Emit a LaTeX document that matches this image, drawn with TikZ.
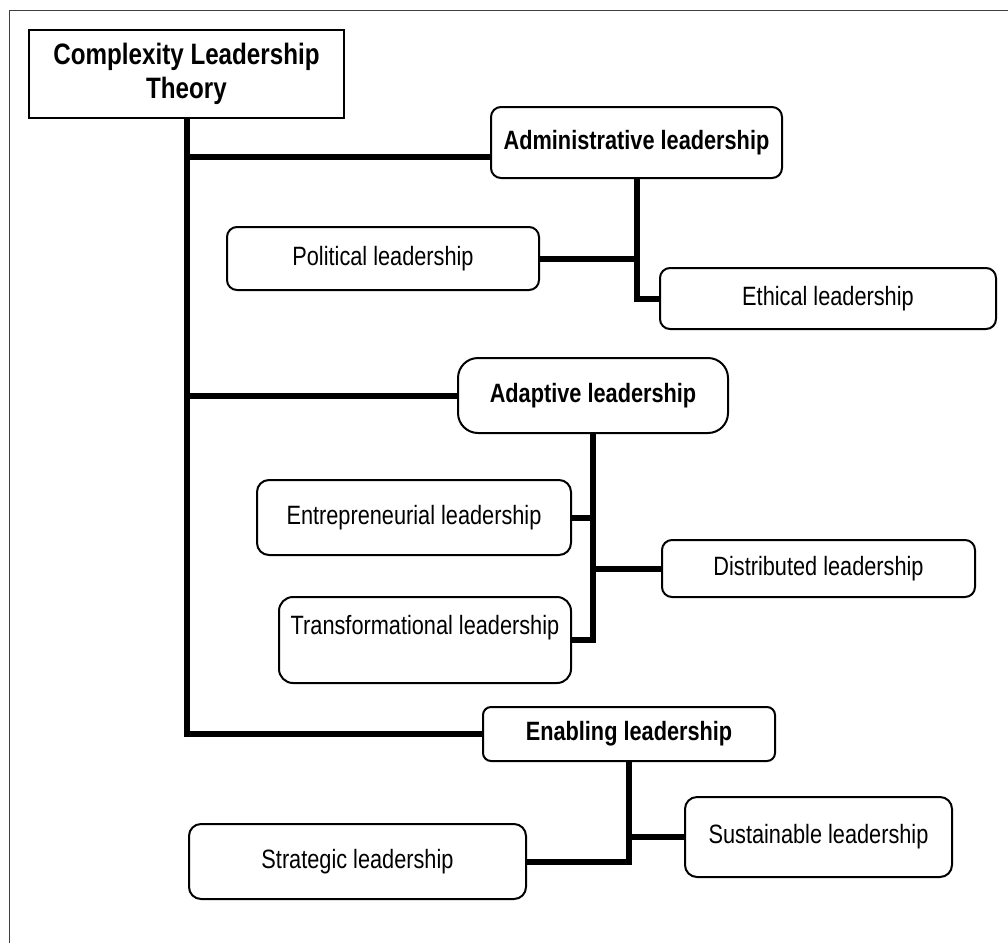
\documentclass[tikz,border=0pt]{standalone}
\usepackage{fontspec}
\setmainfont{Liberation Sans}[FakeStretch=0.82]
\begin{document}
\begin{tikzpicture}[x=1pt,y=-1pt,
  box/.style={draw,line width=2pt,rounded corners=10pt,fill=white,inner sep=0pt,align=center,
    font=\fontsize{26.5}{30}\selectfont},
  hbox/.style={box,font=\fontsize{26.5}{30}\selectfont\bfseries},
  conn/.style={line width=6pt},
  frame/.style={line width=1.5pt,draw=black!75}]
\useasboundingbox (0,0) rectangle (1008,943);
\draw[frame] (9.5,943) -- (9.5,10.5) -- (1008,10.5);

\node[draw,line width=1.3pt,fill=white,inner sep=0pt,align=center,minimum width=315pt,minimum height=88pt,
  font=\fontsize{29.5}{34}\selectfont\bfseries] (clt) at (186.5,74) {Complexity Leadership\\Theory};

\node[hbox,minimum width=291pt,minimum height=71pt] (admin) at (636.5,142.5) {Administrative leadership};
\node[box,minimum width=312pt,minimum height=63pt] (pol) at (383,258.5) {Political leadership};
\node[box,minimum width=336pt,minimum height=61pt] (eth) at (828,298.5) {Ethical leadership};

\node[hbox,rounded corners=20pt,minimum width=270pt,minimum height=75pt] (adapt) at (593,395.5) {Adaptive leadership};
\node[box,rounded corners=12pt,minimum width=314pt,minimum height=75pt] (entre) at (414,517.5) {Entrepreneurial leadership};
\node[box,rounded corners=14pt,minimum width=292pt,minimum height=86pt] (transf) at (425,640) {Transformational leadership\\\mbox{}};
\node[box,minimum width=313pt,minimum height=57pt] (dist) at (818.5,568.5) {Distributed leadership};

\node[hbox,rounded corners=8pt,minimum width=292pt,minimum height=54pt] (enab) at (629,734) {Enabling leadership};
\node[box,rounded corners=12pt,minimum width=267pt,minimum height=80pt] (sust) at (818.5,837) {Sustainable leadership};
\node[box,rounded corners=12pt,minimum width=337pt,minimum height=75pt] (strat) at (357.5,861.5) {Strategic leadership};

% trunk
\draw[conn] (clt.south) |- (enab.west);
\draw[conn] (clt.south |- 0,157) -- (admin.west |- 0,157);
\draw[conn] (clt.south |- adapt.west) -- (adapt.west);

% administrative
\draw[conn] (admin.south) |- (eth.west);
\draw[conn] (pol.east) -- (pol.east -| admin.south);

% adaptive
\draw[conn] (adapt.south) |- (transf.east);
\draw[conn] (entre.east) -- (entre.east -| adapt.south);
\draw[conn] (dist.west) -- (dist.west -| adapt.south);

% enabling
\draw[conn] (enab.south) |- (strat.east);
\draw[conn] (sust.west) -- (sust.west -| enab.south);
\end{tikzpicture}
\end{document}
